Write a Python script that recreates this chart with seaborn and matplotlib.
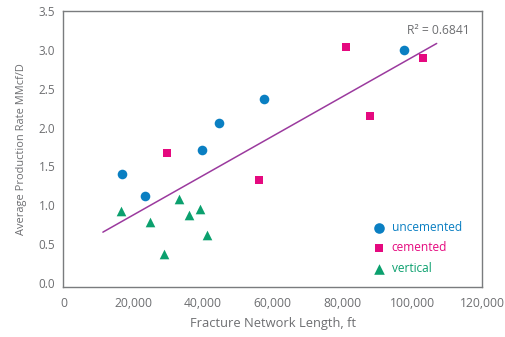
import numpy as np
import pandas as pd
import matplotlib
matplotlib.use("Agg")
import matplotlib.pyplot as plt
import seaborn as sns

# Fracture network length (ft) and average production rate (MMcf/D) per well type
uncemented_len = [16800, 23300, 39600, 44600, 57500, 97700]
uncemented_rate = [1.40, 1.12, 1.71, 2.06, 2.37, 3.00]

cemented_len = [29600, 56000, 80900, 87800, 103000]
cemented_rate = [1.67, 1.33, 3.04, 2.15, 2.90]

vertical_len = [16400, 24800, 28800, 33000, 36100, 39100, 41100]
vertical_rate = [0.93, 0.78, 0.37, 1.08, 0.87, 0.95, 0.62]

groups = ["uncemented", "cemented", "vertical"]
r_squared_label = "R² = 0.6841"
trend_span = (11300, 107000)

df = pd.DataFrame({
    "length": uncemented_len + cemented_len + vertical_len,
    "rate": uncemented_rate + cemented_rate + vertical_rate,
    "type": (["uncemented"] * len(uncemented_len)
             + ["cemented"] * len(cemented_len)
             + ["vertical"] * len(vertical_len)),
})

colors = {"uncemented": "#0a7fc2", "cemented": "#e5097f", "vertical": "#0ba06e"}
markers = {"uncemented": "o", "cemented": "s", "vertical": "^"}
sizes = {"uncemented": 48, "cemented": 34, "vertical": 48}
text_gray = "#6d6e71"

sns.set_theme(style="white")
plt.rcParams["font.family"] = ["Open Sans", "DejaVu Sans"]

fig = plt.figure(figsize=(5.05, 3.37), dpi=100)
ax = fig.add_axes([0.1257, 0.1484, 0.8288, 0.819])

for g in groups:
    sub = df[df["type"] == g]
    sns.scatterplot(data=sub, x="length", y="rate", ax=ax, color=colors[g],
                    marker=markers[g], s=sizes[g], linewidth=0, label=g,
                    zorder=3)

# Linear trend over all wells
slope, intercept = np.polyfit(df["length"], df["rate"], 1)
xs = np.array(trend_span, dtype=float)
ax.plot(xs, slope * xs + intercept, color="#9b3a9e", lw=1.1, zorder=2)
ax.text(116500, 3.25, r_squared_label, color=text_gray, fontsize=8.7,
        ha="right", va="center")

ax.set_xlim(0, 120000)
ax.set_ylim(-0.05, 3.5)
ax.set_xticks(np.arange(0, 120001, 20000))
ax.set_xticklabels([f"{v:,}" for v in range(0, 120001, 20000)])
ax.set_yticks(np.arange(0, 3.51, 0.5))
ax.set_yticklabels([f"{v:.1f}" for v in np.arange(0, 3.51, 0.5)])
ax.tick_params(axis="x", length=0, labelsize=8.7, colors=text_gray, pad=7)
ax.tick_params(axis="y", length=0, labelsize=8.5, colors=text_gray, pad=6)

ax.set_xlabel("Fracture Network Length, ft", color=text_gray, fontsize=9.3,
              labelpad=5)
ax.set_ylabel("Average Production Rate MMcf/D", color=text_gray, fontsize=7.9,
              labelpad=8)

for sp in ax.spines.values():
    sp.set_color("#7a7c7e")
    sp.set_linewidth(1.0)

handles, labels = ax.get_legend_handles_labels()
leg = ax.legend(handles, labels, loc="center left", frameon=False,
                fontsize=8.6, handlelength=1.0, handletextpad=0.55,
                labelspacing=0.6, borderpad=0, borderaxespad=0,
                bbox_to_anchor=(0.7395, 0.1413), markerscale=1.1)
for txt, g in zip(leg.get_texts(), labels):
    txt.set_color(colors[g])

fig.savefig("out.png", dpi=100)
